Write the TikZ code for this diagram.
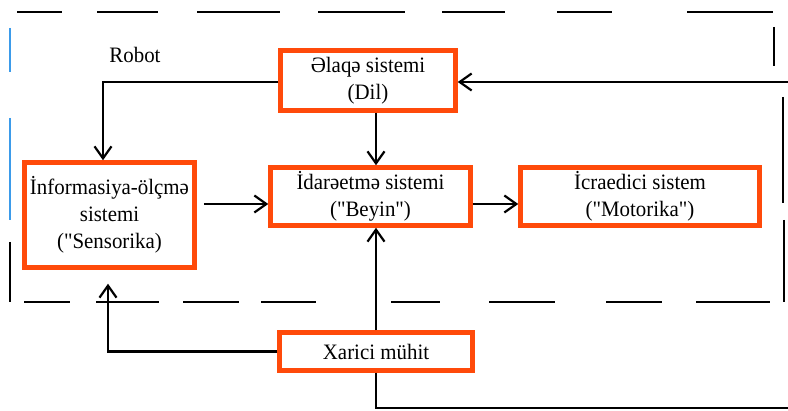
\documentclass[tikz,border=0pt]{standalone}
\usepackage{fontspec}
\setmainfont{Liberation Serif}[Ligatures=TeXOff,FakeStretch=0.95]
\usepackage{tikz}
\usetikzlibrary{arrows.meta,calc}
\definecolor{frame}{HTML}{FF4A0A}
\definecolor{halo}{HTML}{FFD84A}
\definecolor{edge}{HTML}{3B9BEA}
\tikzset{
  >={Straight Barb[length=12pt,width=17pt]},
  sysbox/.style={draw=frame,line width=4.5pt,fill=white,align=center,inner sep=0pt,
    preaction={draw=halo,line width=5.8pt},font=\fontsize{22}{27}\selectfont},
  lbl/.style={font=\fontsize{22}{25}\selectfont},
  arr/.style={->,line width=2.2pt},
  dsh/.style={line width=2.8pt},
}

\begin{document}
\begin{tikzpicture}[x=1pt,y=-1pt]
\useasboundingbox (0,0) rectangle (788,411);
% robot frame, dashes as drawn
\foreach \a/\b in {17/62,97/158,197/280,318/405,442/505,557/612,687/773}
  \draw[dsh] (\a,12) -- (\b,12);
\foreach \a/\b in {24/70,96/159,183/239,261/316,391/440,489/555,606/662,696/770}
  \draw[dsh] (\a,302) -- (\b,302);
\draw[dsh] (774,27) -- (774,66);
\draw[dsh] (783,97) -- (783,203);
\draw[dsh] (784,220) -- (784,302);
\draw[edge,line width=1.3pt] (10,28) -- (10,72);
\draw[edge,line width=1.3pt] (10,118) -- (10,220);
\draw[dsh] (10,242) -- (10,302);

\node[lbl] (robot) at (135,55) {Robot};
\node[sysbox,minimum width=175pt,minimum height=60pt] (dil) at (368,80.5) {Əlaqə sistemi\\(Dil)};
\node[sysbox,minimum width=170pt,minimum height=105pt] (sens) at (109.5,215) {İnformasiya-ölçmə\\sistemi\\ ("Sensorika)};
\node[sysbox,minimum width=200pt,minimum height=58pt] (beyin) at (370.5,196.5) {İdarəetmə sistemi\\("Beyin")};
\node[sysbox,minimum width=239pt,minimum height=58pt] (motor) at (640,196.5) {İcraedici sistem\\("Motorika")};
\node[sysbox,minimum width=193pt,minimum height=38pt] (xarici) at (376,351.5) {Xarici mühit};

% helper rows and columns
\coordinate (spine) at (376,0);
\coordinate (mid) at (0,204);
\coordinate (toprow) at (0,82);
\coordinate (far) at (791,408);

\draw[arr] (dil.west |- toprow) -| ([xshift=-6.5pt]sens.north);
\draw[arr] (spine |- dil.south) -- (spine |- beyin.north);
\draw[arr,shorten <=7pt] (sens.east |- mid) -- (beyin.west |- mid);
\draw[arr] (beyin.east |- mid) -- (motor.west |- mid);
\draw[arr] (spine |- xarici.north) -- (spine |- beyin.south);
\draw[arr,shorten >=14pt] (xarici.west) -| ([xshift=-1.5pt]sens.south);
\draw[arr] (spine |- xarici.south) |- (far) |- (dil.east |- toprow);
\end{tikzpicture}
\end{document}
